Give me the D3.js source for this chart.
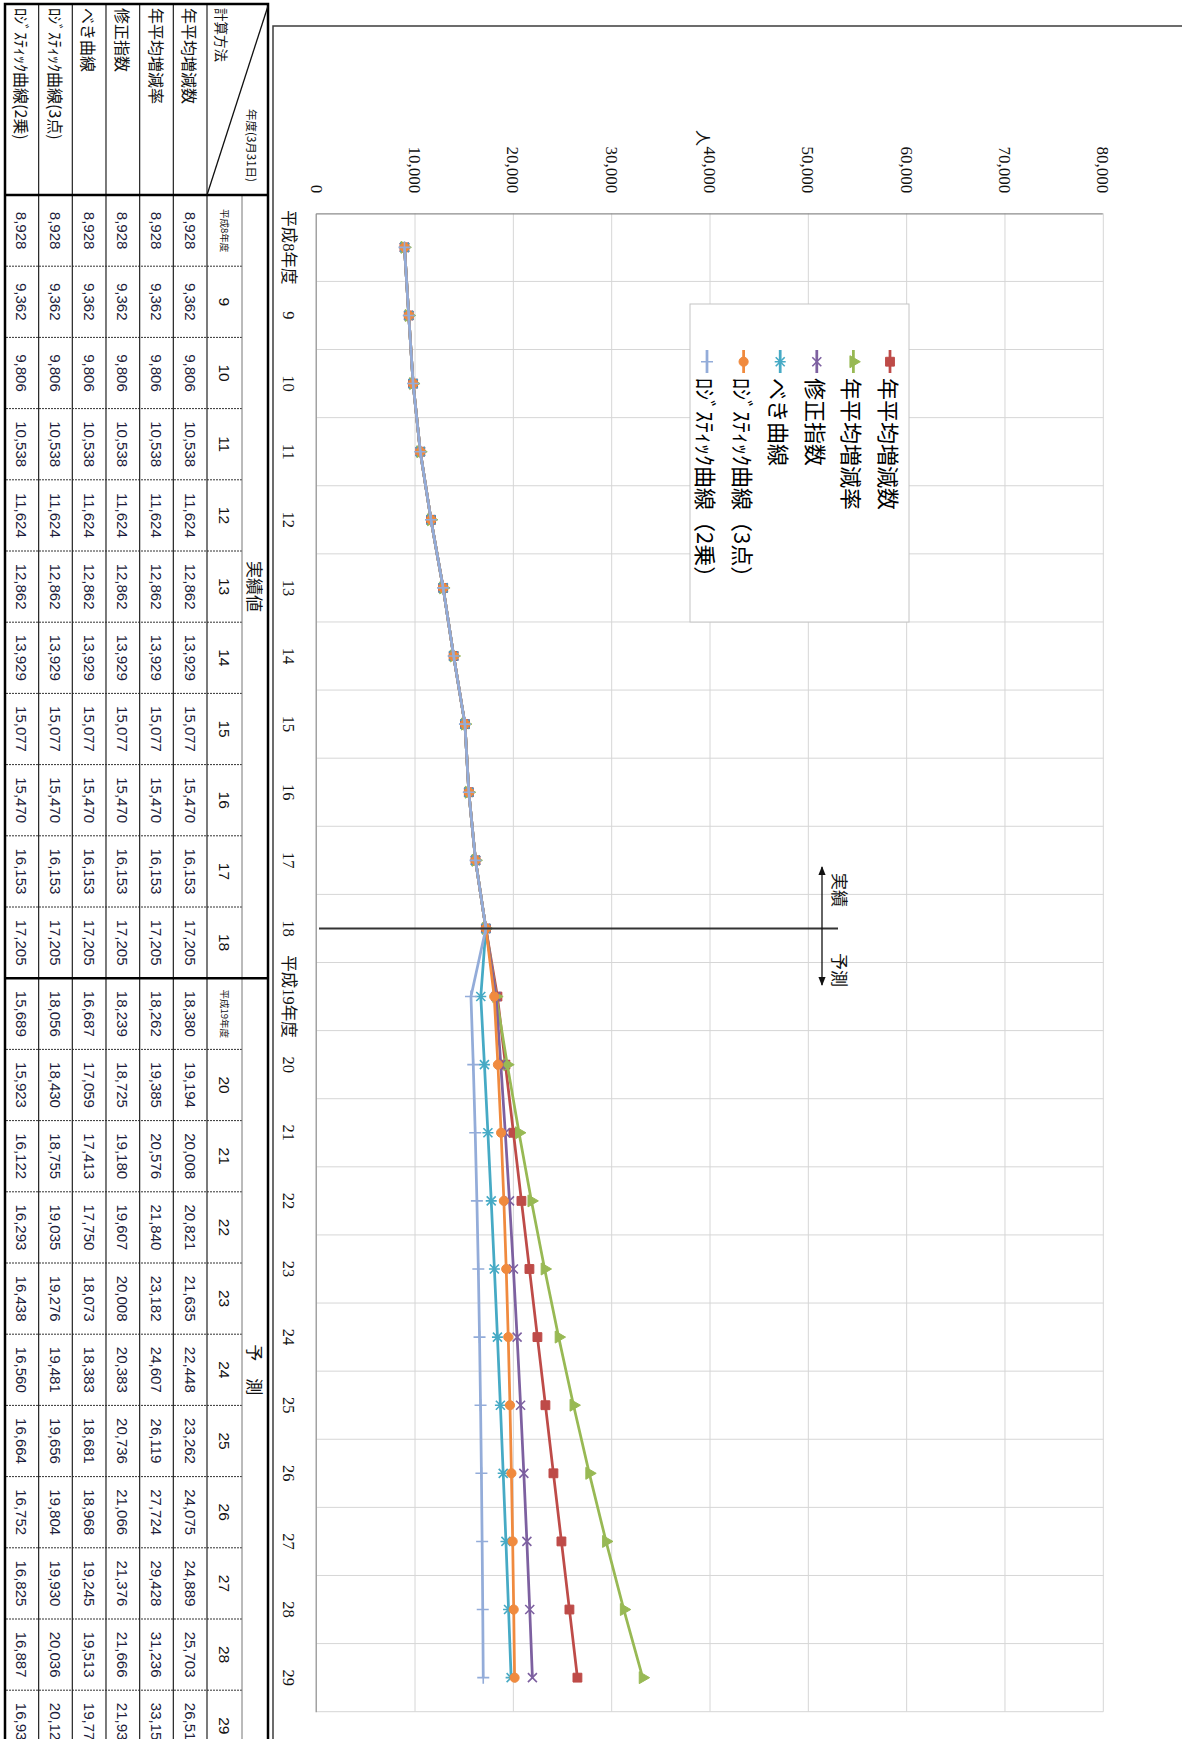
<!DOCTYPE html>
<html>
<head>
<meta charset="utf-8">
<script src="https://cdn.jsdelivr.net/npm/d3@7"></script>
<style>
  body { margin: 0; background: #fff; }
  svg { display: block; }
</style>
</head>
<body>
<svg id="chart" width="1182" height="1739"></svg>
<script>
// ---- data -------------------------------------------------------------
const categories = ["平成8年度", "9", "10", "11", "12", "13", "14", "15", "16", "17", "18",
                    "平成19年度", "20", "21", "22", "23", "24", "25", "26", "27", "28", "29"];
// 実績値 (平成8〜18年度)
const actualValues = [8928, 9362, 9806, 10538, 11624, 12862, 13929, 15077, 15470, 16153, 17205];
// 予測 (平成19〜29年度)
const fcstAvgChange   = [18380, 19194, 20008, 20821, 21635, 22448, 23262, 24075, 24889, 25703, 26516];
const fcstAvgRate     = [18262, 19385, 20576, 21840, 23182, 24607, 26119, 27724, 29428, 31236, 33155];
const fcstModExp      = [18239, 18725, 19180, 19607, 20008, 20383, 20736, 21066, 21376, 21666, 21938];
const fcstPower       = [16687, 17059, 17413, 17750, 18073, 18383, 18681, 18968, 19245, 19513, 19773];
const fcstLogistic3   = [18056, 18430, 18755, 19035, 19276, 19481, 19656, 19804, 19930, 20036, 20126];
const fcstLogistic2   = [15689, 15923, 16122, 16293, 16438, 16560, 16664, 16752, 16825, 16887, 16939];
const seriesNames = ["年平均増減数", "年平均増減率", "修正指数", "べき曲線",
                     "ﾛｼﾞｽﾃｨｯｸ曲線(3点)", "ﾛｼﾞｽﾃｨｯｸ曲線(2乗)"];
const legendNames = ["年平均増減数", "年平均増減率", "修正指数", "べき曲線",
                     "ﾛｼﾞｽﾃｨｯｸ曲線（3点）", "ﾛｼﾞｽﾃｨｯｸ曲線（2乗）"];
const valueTicks = [0, 10000, 20000, 30000, 40000, 50000, 60000, 70000, 80000];
const phaseLabels = ["実績値", "予　測"];
const arrowLabels = ["実績", "予測"];
const unitLabel = "人";
const tableCorner = ["年度(3月31日)", "計算方法"];

// ---- styles -----------------------------------------------------------
const colors  = ["#BE4B48", "#98B954", "#7D60A0", "#46AAC5", "#F08A3E", "#93ACD9"];
const markers = ["square", "triangle", "x", "star", "circle", "plus"];
const JP = "'Noto Sans CJK JP', sans-serif";
const NUM = "'Liberation Serif', 'Noto Sans CJK JP', serif";
const TNUM = "'Liberation Sans', Arial, sans-serif";

const forecasts = [fcstAvgChange, fcstAvgRate, fcstModExp, fcstPower, fcstLogistic3, fcstLogistic2];
const series = seriesNames.map((name, i) => ({
  name, legend: legendNames[i], color: colors[i], marker: markers[i],
  values: actualValues.concat(forecasts[i])
}));

const svg = d3.select("#chart");
svg.append("rect").attr("width", 1182).attr("height", 1739).attr("fill", "#fff");

// The sheet is laid out in landscape (1739 wide, 1182 high) and turned a quarter turn clockwise.
const page = svg.append("g").attr("transform", "translate(1182,0) rotate(90)");

// ---- chart frame ------------------------------------------------------
page.append("path")
  .attr("d", "M26,0V909H1760")
  .attr("fill", "none").attr("stroke", "#3c3c3c").attr("stroke-width", 1.5);

// ---- scales -----------------------------------------------------------
const plot = { left: 213.3, right: 1711.7, top: 78.7, bottom: 865.3 };
const x = d3.scaleBand().domain(categories).range([plot.left, plot.right]);
const y = d3.scaleLinear().domain([0, 80000]).range([plot.bottom, plot.top]);
const cx = c => x(c) + x.bandwidth() / 2;

// gridlines
const grid = page.append("g").attr("stroke", "#d6d6d6").attr("stroke-width", 1);
grid.selectAll(".gy").data(valueTicks.slice(1)).join("line")
  .attr("x1", plot.left).attr("x2", plot.right)
  .attr("y1", d => y(d)).attr("y2", d => y(d));
grid.selectAll(".gx").data(d3.range(1, categories.length + 1)).join("line")
  .attr("x1", k => plot.left + k * x.step()).attr("x2", k => plot.left + k * x.step())
  .attr("y1", plot.top).attr("y2", plot.bottom);

// value axis
const yAxisG = page.append("g").attr("transform", `translate(${plot.left},0)`)
  .call(d3.axisLeft(y).tickValues(valueTicks).tickSize(0).tickPadding(20).tickFormat(d3.format(",")));
yAxisG.select(".domain").attr("stroke", "#8c8c8c").attr("stroke-width", 1.2);
yAxisG.selectAll("text").attr("font-family", NUM).attr("font-size", 17).attr("fill", "#111");

// category axis
const xAxisG = page.append("g").attr("transform", `translate(0,${plot.bottom})`)
  .call(d3.axisBottom(x).tickSize(0).tickSizeOuter(0));
xAxisG.select(".domain").attr("stroke", "#8c8c8c").attr("stroke-width", 1.2);
xAxisG.selectAll("text").attr("y", 28).attr("dy", "0.35em")
  .attr("font-family", NUM).attr("font-size", 16.5).attr("fill", "#111");

// unit label
page.append("text").attr("x", 138).attr("y", 478).attr("text-anchor", "middle")
  .attr("dominant-baseline", "central").attr("font-family", JP).attr("font-size", 16)
  .attr("fill", "#111").text(unitLabel);

// ---- series -----------------------------------------------------------
function markerPath(type) {
  switch (type) {
    case "square":   return d3.symbol(d3.symbolSquare, 78)();
    case "triangle": return d3.symbol(d3.symbolTriangle, 62)();
    case "circle":   return d3.symbol(d3.symbolCircle, 66)();
    case "x":        return "M-4.5,-4.5L4.5,4.5M-4.5,4.5L4.5,-4.5";
    case "star":     return "M-4.5,-4.5L4.5,4.5M-4.5,4.5L4.5,-4.5M0,-5.5V5.5";
    case "plus":     return "M-6,0H6M0,-6V6";
  }
}
const filled = t => t === "square" || t === "triangle" || t === "circle";

const line = d3.line().x((d, i) => cx(categories[i])).y(d => y(d));
series.forEach(s => {
  const g = page.append("g");
  g.append("path").attr("d", line(s.values)).attr("fill", "none")
    .attr("stroke", s.color).attr("stroke-width", 2.75).attr("stroke-linejoin", "round");
  g.selectAll("path.mk").data(s.values).join("path").attr("class", "mk")
    .attr("transform", (d, i) => `translate(${cx(categories[i])},${y(d)})`)
    .attr("d", markerPath(s.marker))
    .attr("fill", filled(s.marker) ? s.color : "none")
    .attr("stroke", s.color).attr("stroke-width", filled(s.marker) ? 1 : 1.6);
});

// ---- actual / forecast divider ----------------------------------------
const uSplit = cx("18");
page.append("line").attr("x1", uSplit).attr("x2", uSplit).attr("y1", 344).attr("y2", 863)
  .attr("stroke", "#333").attr("stroke-width", 2);

const defs = svg.append("defs");
defs.append("marker").attr("id", "ah").attr("viewBox", "0 0 10 10").attr("refX", 9).attr("refY", 5)
  .attr("markerWidth", 7).attr("markerHeight", 7).attr("orient", "auto-start-reverse")
  .append("path").attr("d", "M0,1L10,5L0,9Z").attr("fill", "#111");
page.append("line").attr("x1", 867).attr("x2", 985).attr("y1", 360).attr("y2", 360)
  .attr("stroke", "#111").attr("stroke-width", 1.3)
  .attr("marker-start", "url(#ah)").attr("marker-end", "url(#ah)");
page.selectAll(".arrowlab").data(arrowLabels).join("text")
  .attr("x", (d, i) => i === 0 ? 890 : 970).attr("y", 342)
  .attr("text-anchor", "middle").attr("dominant-baseline", "central")
  .attr("font-family", JP).attr("font-size", 17).attr("fill", "#111").text(d => d);

// ---- legend -----------------------------------------------------------
const legend = page.append("g");
legend.append("rect").attr("x", 304).attr("y", 273).attr("width", 318).attr("height", 219)
  .attr("fill", "#fff").attr("stroke", "#c4c4c4").attr("stroke-width", 1);
series.forEach((s, i) => {
  const v = 292 + i * 36.6;
  const g = legend.append("g");
  g.append("line").attr("x1", 350).attr("x2", 373).attr("y1", v).attr("y2", v)
    .attr("stroke", s.color).attr("stroke-width", 2.75);
  g.append("path").attr("transform", `translate(361.7,${v})`).attr("d", markerPath(s.marker))
    .attr("fill", filled(s.marker) ? s.color : "none")
    .attr("stroke", s.color).attr("stroke-width", filled(s.marker) ? 1 : 1.6);
  g.append("text").attr("x", 378).attr("y", v).attr("dominant-baseline", "central")
    .attr("font-family", JP).attr("font-size", 22).attr("fill", "#000").text(s.legend);
});

// ---- data table -------------------------------------------------------
const T = { u0: 4, uData: 195, colW: 71.2, vTop: 914, vSub: 940, vHead: 975, rowH: 33.67, vBot: 1177, uEnd: 1800 };
const colU = i => T.uData + i * T.colW;
const rowV = r => T.vHead + r * T.rowH;
const tbl = page.append("g");

// dotted column separators
tbl.selectAll(".cs").data(d3.range(1, categories.length + 1)).join("line")
  .attr("x1", colU).attr("x2", colU).attr("y1", T.vSub).attr("y2", T.vBot)
  .attr("stroke", "#333").attr("stroke-width", 1).attr("stroke-dasharray", "2,1");
// row separators
tbl.append("line").attr("x1", T.uData).attr("x2", T.uEnd).attr("y1", T.vSub).attr("y2", T.vSub)
  .attr("stroke", "#777").attr("stroke-width", 1);
tbl.selectAll(".rs").data(d3.range(0, 6)).join("line")
  .attr("x1", T.u0).attr("x2", T.uEnd).attr("y1", rowV).attr("y2", rowV)
  .attr("stroke", "#222").attr("stroke-width", 1.2);
// heavy rules
const uFcst = colU(actualValues.length);
[T.uData, uFcst].forEach(u => tbl.append("line").attr("x1", u).attr("x2", u)
  .attr("y1", T.vTop).attr("y2", T.vBot).attr("stroke", "#000").attr("stroke-width", 2.5));
tbl.append("rect").attr("x", T.u0).attr("y", T.vTop).attr("width", T.uEnd - T.u0).attr("height", T.vBot - T.vTop)
  .attr("fill", "none").attr("stroke", "#000").attr("stroke-width", 2.5);
// corner cell
tbl.append("line").attr("x1", T.u0 + 2).attr("y1", T.vTop).attr("x2", T.uData).attr("y2", T.vHead)
  .attr("stroke", "#111").attr("stroke-width", 1.3);
tbl.append("text").attr("x", 182).attr("y", 930).attr("text-anchor", "end").attr("dominant-baseline", "central")
  .attr("font-family", JP).attr("font-size", 11.5).attr("fill", "#111").text(tableCorner[0]);
tbl.append("text").attr("x", 8).attr("y", 960).attr("dominant-baseline", "central")
  .attr("font-family", JP).attr("font-size", 13.5).attr("fill", "#111").text(tableCorner[1]);

// phase headers
tbl.selectAll(".ph").data(phaseLabels).join("text")
  .attr("x", (d, i) => i === 0 ? (T.uData + uFcst) / 2 : (uFcst + colU(categories.length)) / 2)
  .attr("y", (T.vTop + T.vSub) / 2).attr("text-anchor", "middle").attr("dominant-baseline", "central")
  .attr("font-family", JP).attr("font-size", 17).attr("fill", "#111").text(d => d);

// year headers
tbl.selectAll(".yh").data(categories).join("text")
  .attr("x", (d, i) => colU(i) + T.colW / 2).attr("y", (T.vSub + T.vHead) / 2)
  .attr("text-anchor", "middle").attr("dominant-baseline", "central")
  .attr("font-family", d => d.length > 2 ? JP : TNUM)
  .attr("font-size", d => d.length > 2 ? 9.5 : 15.5).attr("fill", "#111").text(d => d);

// method rows
series.forEach((s, r) => {
  const v = rowV(r) + T.rowH / 2;
  tbl.append("text").attr("x", 8).attr("y", v).attr("dominant-baseline", "central")
    .attr("font-family", JP).attr("font-size", 16).attr("fill", "#111").text(s.name);
  tbl.selectAll(null).data(s.values).join("text")
    .attr("x", (d, i) => colU(i) + T.colW / 2).attr("y", v)
    .attr("text-anchor", "middle").attr("dominant-baseline", "central")
    .attr("font-family", TNUM).attr("font-size", 15).attr("fill", "#1c1c3a")
    .text(d3.format(","));
});
</script>
</body>
</html>
